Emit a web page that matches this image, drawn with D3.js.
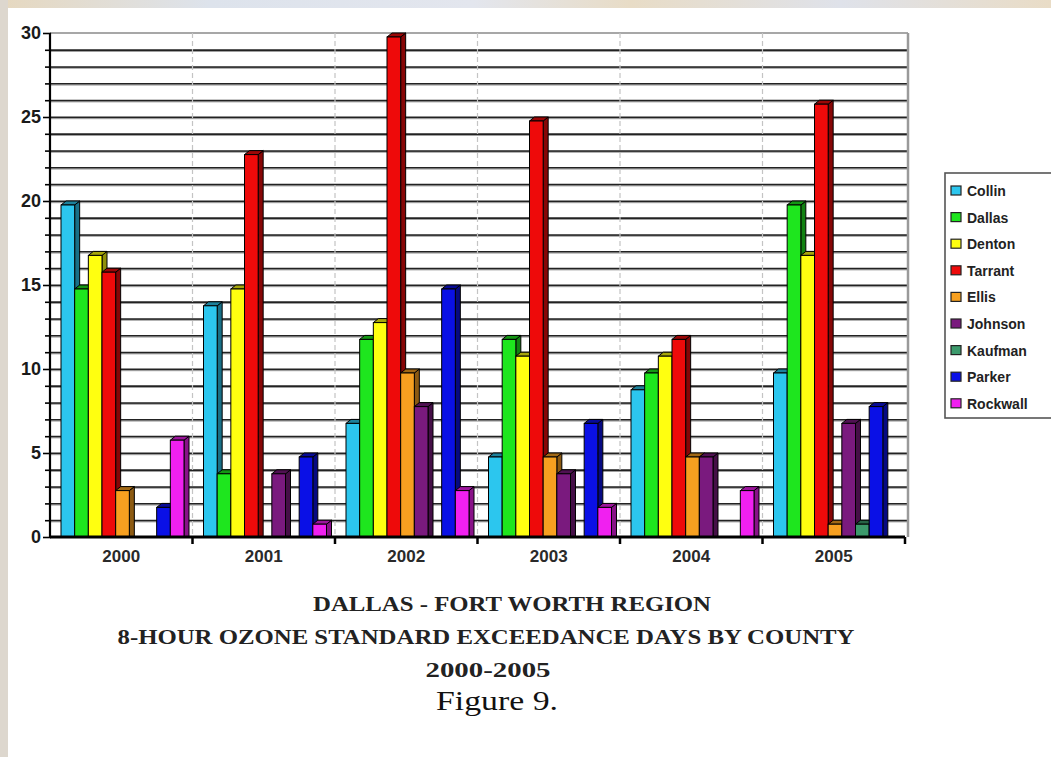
<!DOCTYPE html>
<html>
<head>
<meta charset="utf-8">
<script src="https://cdn.jsdelivr.net/npm/d3@7/dist/d3.min.js"></script>
<style>
  body { margin: 0; background: #fff; }
  svg { display: block; }
</style>
</head>
<body>
<svg id="chart" width="1051" height="757"></svg>
<script>
// Ozone exceedance days per county, 2000-2005
const years = ["2000", "2001", "2002", "2003", "2004", "2005"];
const counties = ["Collin", "Dallas", "Denton", "Tarrant", "Ellis", "Johnson", "Kaufman", "Parker", "Rockwall"];

const collin   = [20, 14, 7, 5, 9, 10];
const dallas   = [15, 4, 12, 12, 10, 20];
const denton   = [17, 15, 13, 11, 11, 17];
const tarrant  = [16, 23, 30, 25, 12, 26];
const ellis    = [3, 0, 10, 5, 5, 1];
const johnson  = [0, 4, 8, 4, 5, 7];
const kaufman  = [0, 0, 0, 0, 0, 1];
const parker   = [2, 5, 15, 7, 0, 8];
const rockwall = [6, 1, 3, 2, 3, 0];

const seriesValues = [collin, dallas, denton, tarrant, ellis, johnson, kaufman, parker, rockwall];
const seriesColors = ["#2cc6ee", "#1ee61e", "#ffff10", "#ee0a0a", "#f7a020", "#7a1a7e", "#3c9a6c", "#0a10e6", "#f020f0"];

const yTickLabels = [0, 5, 10, 15, 20, 25, 30];
const titleLines = [
  "DALLAS - FORT WORTH REGION",
  "8-HOUR OZONE STANDARD EXCEEDANCE DAYS BY COUNTY",
  "2000-2005"
];
const figureLabel = "Figure 9.";

const svg = d3.select("#chart");

// faded page border behind the white sheet
const defs = svg.append("defs");
const grad = defs.append("linearGradient").attr("id", "edge").attr("x1", 0).attr("x2", 1);
[["0%", "#e6d8bf"], ["20%", "#dde3ec"], ["45%", "#e3e6ee"], ["60%", "#e8dcc6"], ["80%", "#dfe2ea"], ["100%", "#e9dcc6"]]
  .forEach(([o, c]) => grad.append("stop").attr("offset", o).attr("stop-color", c));
svg.append("rect").attr("x", 0).attr("y", 0).attr("width", 1051).attr("height", 8).attr("fill", "url(#edge)");
svg.append("rect").attr("x", 0).attr("y", 0).attr("width", 8).attr("height", 757).attr("fill", "#ddd7ce");
svg.append("rect").attr("x", 8).attr("y", 8).attr("width", 1043).attr("height", 749).attr("fill", "#ffffff");

// scales
const plot = { left: 50, right: 905, top: 33, bottom: 537 };
const x = d3.scaleBand().domain(years).range([plot.left, plot.right]);
const xi = d3.scaleBand().domain(counties).range([11, 134]);
const y = d3.scaleLinear().domain([0, 30]).range([plot.bottom, plot.top]);

// horizontal grid, one line per day
const grid = svg.append("g").attr("transform", `translate(${plot.left},0)`)
  .call(d3.axisLeft(y).tickValues(d3.range(1, 30)).tickSize(-(plot.right + 3 - plot.left)).tickFormat(""));
grid.select(".domain").remove();
grid.selectAll(".tick line").attr("stroke", "#222").attr("stroke-width", 1.9);
// soft shadow under grid lines
svg.append("g").selectAll("line").data(d3.range(1, 30)).join("line")
  .attr("x1", plot.left).attr("x2", plot.right + 3)
  .attr("y1", d => y(d) + 1.7).attr("y2", d => y(d) + 1.7)
  .attr("stroke", "#a0a0a0").attr("stroke-width", 1);

// top line and right border
svg.append("line").attr("x1", plot.left).attr("x2", plot.right + 3)
  .attr("y1", y(30)).attr("y2", y(30)).attr("stroke", "#8a8a8a").attr("stroke-width", 1.5);
svg.append("line").attr("x1", plot.right + 3).attr("x2", plot.right + 3)
  .attr("y1", y(30)).attr("y2", plot.bottom).attr("stroke", "#9a9a9a").attr("stroke-width", 2.5);

// dashed separators between years
svg.append("g").selectAll("line").data(years.slice(1)).join("line")
  .attr("x1", d => x(d)).attr("x2", d => x(d))
  .attr("y1", y(30)).attr("y2", plot.bottom)
  .attr("stroke", "#c4c4c4").attr("stroke-width", 1.2).attr("stroke-dasharray", "5,3");

// 3D-styled bars
const dx = 5, dy = 4;
const w = xi.bandwidth();
const bars = [];
years.forEach((yr, gi) => {
  counties.forEach((c, si) => {
    const v = seriesValues[si][gi];
    if (v > 0) bars.push({ year: yr, county: c, value: v, color: seriesColors[si] });
  });
});
const barG = svg.append("g").selectAll("g").data(bars).join("g")
  .attr("transform", d => `translate(${x(d.year) + xi(d.county)},0)`);
barG.append("path")
  .attr("d", d => {
    const t = y(d.value), b = y(0);
    return `M${w},${t + dy}L${w + dx},${t}L${w + dx},${b}L${w},${b}Z`;
  })
  .attr("fill", d => d3.color(d.color).darker(1.6)).attr("stroke", "#000").attr("stroke-width", 1);
barG.append("path")
  .attr("d", d => {
    const t = y(d.value);
    return `M0,${t + dy}L${dx},${t}L${w + dx},${t}L${w},${t + dy}Z`;
  })
  .attr("fill", d => d3.color(d.color).darker(1.2)).attr("stroke", "#000").attr("stroke-width", 1);
barG.append("rect")
  .attr("x", 0).attr("width", w)
  .attr("y", d => y(d.value) + dy)
  .attr("height", d => y(0) - y(d.value) - dy)
  .attr("fill", d => d.color).attr("stroke", "#000").attr("stroke-width", 1);

// y axis with a tick per day and labels every five
const yAxis = svg.append("g").attr("transform", `translate(${plot.left},0)`)
  .call(d3.axisLeft(y).tickValues(d3.range(0, 31)).tickSize(5)
    .tickFormat(d => yTickLabels.includes(d) ? d : ""));
yAxis.select(".domain").attr("stroke", "#000").attr("stroke-width", 2.2).attr("d", `M0,${y(30)}V${y(0)}`);
yAxis.selectAll(".tick line").attr("stroke", "#000").attr("stroke-width", 1.6)
  .attr("x1", 1).attr("x2", d => yTickLabels.includes(d) ? -7 : -5);
yAxis.selectAll(".tick text")
  .attr("x", -9)
  .attr("font-family", "Liberation Sans, Arial, sans-serif")
  .attr("font-weight", "bold").attr("font-size", 18).attr("fill", "#1a1a1a");

// x axis
const xAxis = svg.append("g").attr("transform", `translate(0,${plot.bottom})`)
  .call(d3.axisBottom(x).tickSize(0).tickPadding(13));
xAxis.select(".domain").attr("stroke", "#000").attr("stroke-width", 3).attr("d", `M${plot.left},0H${plot.right}`);
xAxis.selectAll(".tick text")
  .attr("font-family", "Liberation Sans, Arial, sans-serif")
  .attr("font-weight", "bold").attr("font-size", 17).attr("fill", "#2a2a2a");
svg.append("g").selectAll("line").data([...years.slice(1).map(d => x(d)), plot.right]).join("line")
  .attr("x1", d => d).attr("x2", d => d)
  .attr("y1", plot.bottom).attr("y2", plot.bottom + 7)
  .attr("stroke", "#000").attr("stroke-width", 2.5);

// legend
const legend = svg.append("g");
legend.append("rect").attr("x", 945).attr("y", 173).attr("width", 120).attr("height", 245)
  .attr("fill", "#fff").attr("stroke", "#555").attr("stroke-width", 1.6);
const li = legend.selectAll("g.item").data(counties).join("g")
  .attr("transform", (d, i) => `translate(951,${191 + i * 26.6})`);
li.append("rect").attr("x", 0).attr("y", -5).attr("width", 10).attr("height", 9)
  .attr("fill", (d, i) => seriesColors[i]).attr("stroke", "#222").attr("stroke-width", 1.2);
li.append("text").attr("x", 16).attr("y", 0).attr("dy", "0.35em")
  .attr("font-family", "Liberation Sans, Arial, sans-serif")
  .attr("font-weight", "bold").attr("font-size", 14).attr("fill", "#222")
  .text(d => d);

// title block
const titleSpecs = [
  { cx: 512, y: 611, len: 398 },
  { cx: 486, y: 644, len: 737 },
  { cx: 488, y: 677, len: 125 }
];
svg.append("g").selectAll("text").data(titleLines).join("text")
  .attr("x", (d, i) => titleSpecs[i].cx).attr("y", (d, i) => titleSpecs[i].y)
  .attr("text-anchor", "middle")
  .attr("textLength", (d, i) => titleSpecs[i].len).attr("lengthAdjust", "spacingAndGlyphs")
  .attr("font-family", "Liberation Serif, Times New Roman, serif")
  .attr("font-weight", "bold").attr("font-size", 20).attr("fill", "#222")
  .text(d => d);
svg.append("text").attr("x", 497).attr("y", 710).attr("text-anchor", "middle")
  .attr("textLength", 122).attr("lengthAdjust", "spacingAndGlyphs")
  .attr("font-family", "Liberation Serif, Times New Roman, serif")
  .attr("font-size", 27).attr("fill", "#111")
  .text(figureLabel);
</script>
</body>
</html>
